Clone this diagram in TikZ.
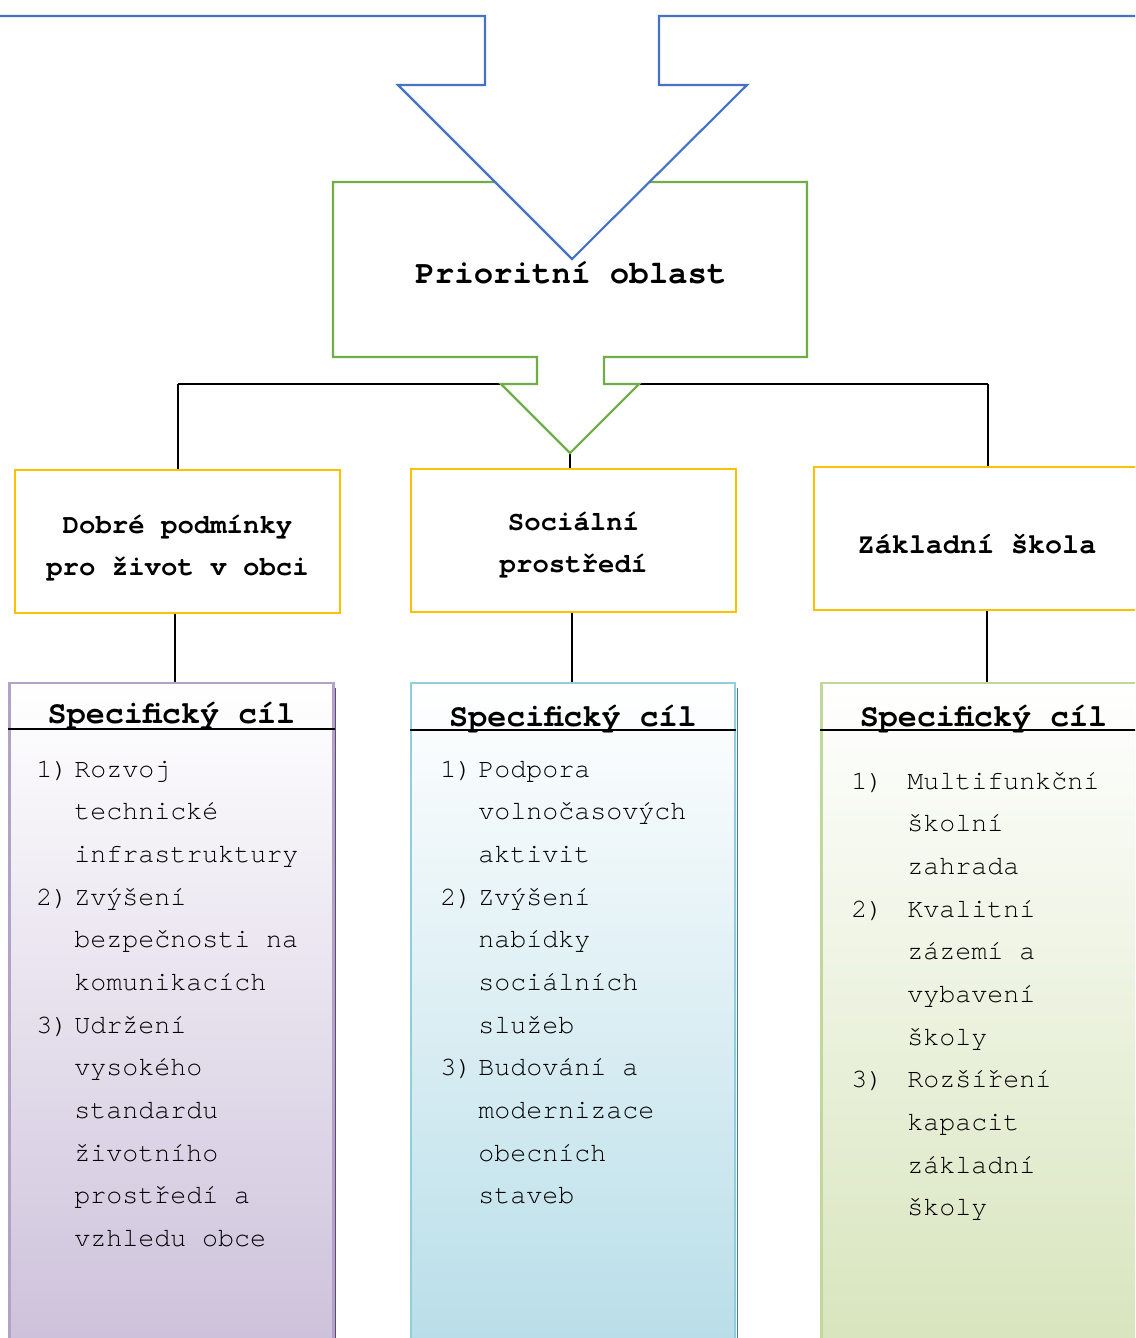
\documentclass[tikz,border=0pt]{standalone}
\usepackage{fontspec}
\setmonofont{texgyrecursor-regular.otf}[BoldFont=texgyrecursor-bold.otf]
\usepackage{xcolor}
\usetikzlibrary{calc}

\definecolor{arrowblue}{RGB}{68,114,196}
\definecolor{areagreen}{RGB}{112,173,71}
\definecolor{goalyellow}{RGB}{255,192,0}
\definecolor{lilacline}{RGB}{178,162,199}
\definecolor{lilacfill}{RGB}{204,192,218}
\definecolor{lilacdark}{RGB}{95,73,122}
\definecolor{aqualine}{RGB}{146,205,220}
\definecolor{aquafill}{RGB}{183,221,232}
\definecolor{aquadark}{RGB}{49,133,155}
\definecolor{oliveline}{RGB}{195,214,155}
\definecolor{olivefill}{RGB}{215,228,188}

\begin{document}
\begin{tikzpicture}[x=0.75pt,y=0.75pt,yscale=-1,xscale=1,
  goalbox/.style={draw=goalyellow,line width=1.6pt,fill=white,minimum width=244pt,minimum height=107pt,inner sep=0pt},
  goaltext/.style={inner sep=0pt,align=center,font=\ttfamily\bfseries\fontsize{20.5}{31.5}\selectfont},
  specbox/.style={line width=1.8pt,minimum width=243pt,minimum height=508pt,inner sep=0pt,anchor=north},
  spectitle/.style={anchor=base,inner sep=0pt,font=\ttfamily\bfseries\fontsize{23.8}{27}\selectfont},
  listtext/.style={anchor=base west,inner sep=0pt,font=\ttfamily\fontsize{20}{32}\selectfont},
  tree/.style={draw=black,line width=1.2pt}]
\clip (0,0) rectangle (1135,1338);

%Connectors of the tree
\coordinate (barL) at (178,384);
\coordinate (barR) at (988,384);
\coordinate (tip) at (570,453);
\draw [tree,line width=1.8pt] (barL) -- (barR) ;

%Goal boxes
\node (goal1) [goalbox] at (177.5,541.5) {};
\node (goal2) [goalbox] at (573.5,540.5) {};
\node (goal3) [goalbox] at (977,538.5) {};
\node (goal1txt) [goaltext] at ($(goal1)+(0,7)$) {Dobré podmínky\\pro život v obci};
\node (goal2txt) [goaltext] at ($(goal2)+(0,5)$) {Sociální\\prostředí};
\node (goal3txt) [goaltext,font=\ttfamily\bfseries\fontsize{21.3}{31.5}\selectfont] at ($(goal3)+(0,6)$) {Základní škola};

\draw [tree] (barL) -- (goal1.north -| barL) ;
\draw [tree] (barR) -- (goal3.north -| barR) ;
\draw [tree] (tip) -- (goal2.north -| tip) ;

%Shape: priority area with notch
\draw [color=areagreen,line width=1.6pt,fill=white] (333,182) -- (807,182) -- (807,357) -- (604,357) -- (604,384) -- (639,384) -- (tip) -- (501,384) -- (537,384) -- (537,357) -- (333,357) -- cycle ;
%Shape: big arrow from above
\draw [color=arrowblue,line width=1.6pt,fill=white] (-5,16) -- (485,16) -- (485,85) -- (398,85) -- (572,259) -- (747,85) -- (659,85) -- (659,16) -- (1140,16) ;

\node (prio) [inner sep=0pt,anchor=base,font=\ttfamily\bfseries\fontsize{24.3}{30}\selectfont] at (571,283) {Prioritní oblast};

%Specific goal columns
\node (spec1) [specbox,draw=lilacline,top color=white,bottom color=lilacfill] at (171.5,682) {};
\node (spec2) [specbox,draw=aqualine,top color=white,bottom color=aquafill] at (573,682) {};
\node (spec3) [specbox,draw=oliveline,top color=white,bottom color=olivefill] at (983.5,682) {};
\draw [lilacdark,line width=0.9pt] ($(spec1.north east)+(1,6)$) -- ($(spec1.south east)+(1,0)$) ;
\draw [aquadark,line width=0.9pt] ($(spec2.north east)+(1,6)$) -- ($(spec2.south east)+(1,0)$) ;

\draw [line width=0.8pt] ($(spec1.north west)+(0,47)$) -- ($(spec1.north east)+(0,47)$) ;
\draw [line width=0.8pt] ($(spec2.north west)+(0,48)$) -- ($(spec2.north east)+(0,48)$) ;
\draw [line width=0.8pt] ($(spec3.north west)+(0,48)$) -- ($(spec3.north east)+(0,48)$) ;

\draw [line width=1.2pt] (goal1.south -| 175,0) -- (spec1.north -| 175,0) ;
\draw [line width=1.2pt] (goal2.south -| 572,0) -- (spec2.north -| 572,0) ;
\draw [line width=1.2pt] (goal3.south -| 987,0) -- (spec3.north -| 987,0) ;

\node (title1) [spectitle] at (171.5,723) {Specifický cíl};
\node (title2) [spectitle] at (573,726) {Specifický cíl};
\node (title3) [spectitle] at (983.5,726) {Specifický cíl};

% Lists
\node (list1) [listtext] at (36,777) {\begin{tabular}[t]{@{}p{28.5pt}@{}l@{}}
1)&Rozvoj\\
&technické\\
&infrastruktury\\
2)&Zvýšení\\
&bezpečnosti na\\
&komunikacích\\
3)&Udržení\\
&vysokého\\
&standardu\\
&životního\\
&prostředí a\\
&vzhledu obce
\end{tabular}};
\node (list2) [listtext] at (440,777) {\begin{tabular}[t]{@{}p{28.5pt}@{}l@{}}
1)&Podpora\\
&volnočasových\\
&aktivit\\
2)&Zvýšení\\
&nabídky\\
&sociálních\\
&služeb\\
3)&Budování a\\
&modernizace\\
&obecních\\
&staveb
\end{tabular}};
\node (list3) [listtext] at (851,789) {\begin{tabular}[t]{@{}p{42pt}@{}l@{}}
1)&Multifunkční\\
&školní\\
&zahrada\\
2)&Kvalitní\\
&zázemí a\\
&vybavení\\
&školy\\
3)&Rozšíření\\
&kapacit\\
&základní\\
&školy
\end{tabular}};
\end{tikzpicture}
\end{document}
